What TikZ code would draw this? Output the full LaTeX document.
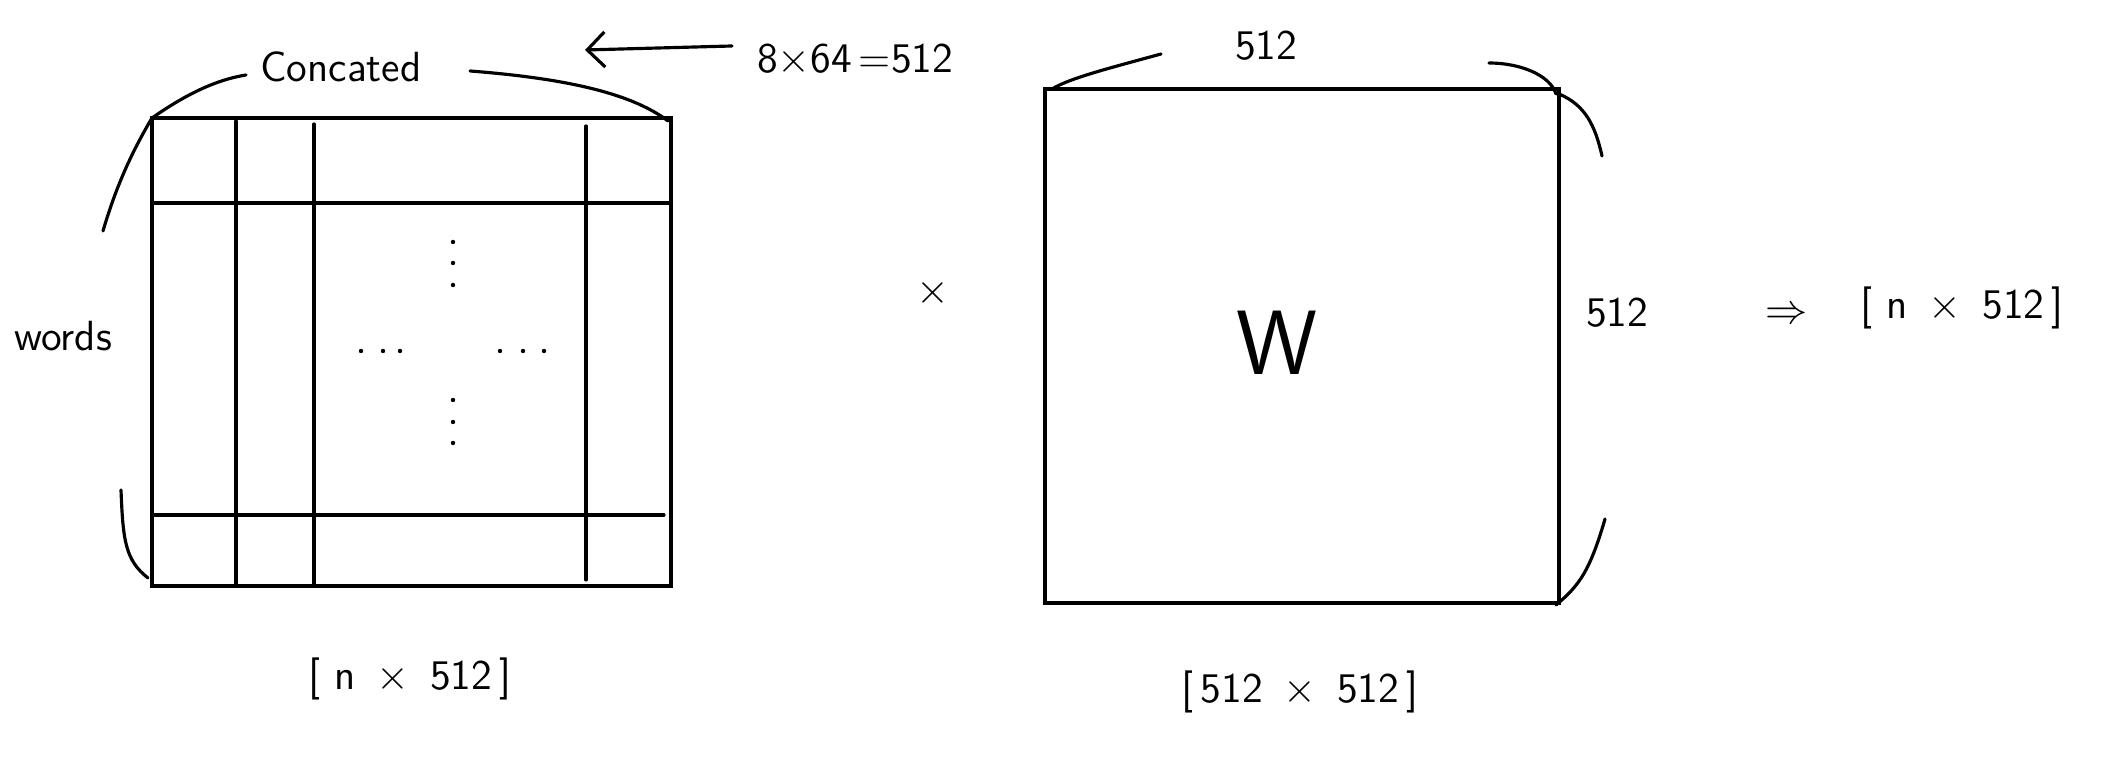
\documentclass[tikz,border=0pt]{standalone}
\usepackage{xcolor}
\usetikzlibrary{arrows.meta}
\begin{document}
\begin{tikzpicture}[x=0.01cm, y=-0.01cm, line width=0.9pt, line cap=round,
    lbl/.style={font=\sffamily\fontsize{12}{14}\selectfont, inner sep=1pt},
    brace/.style={line width=0.9pt}]
      \useasboundingbox (0,0) rectangle (2107,768);
      % \draw[help lines, gray!50, very thin] (0,0) grid[step=100] (2107,768);

      % concatenated heads, n x 512
      \draw (152,118) rectangle (671,586);
      \draw (236,121) -- (236,586);
      \draw (314,124) -- (314,586);
      \draw (586,126) -- (586,580);
      \draw (154,203) -- (671,203);
      \draw (152,515) -- (664,515);
      \foreach \y in {242,263,285,400,422,443}
        \fill (453,\y) circle (2.2);
      \foreach \x in {361,383,400,500,523,544}
        \fill (\x,351) circle (2.2);

      \node[lbl] (concat) at (341,67) {Concated};
      \draw[brace] (152,118) .. controls (185,95) and (215,80) .. (246,75);
      \draw[brace] (470,71) .. controls (560,78) and (630,92) .. (668,121);
      \node[lbl] (words) at (63,336) {words};
      \draw[brace] (152,118) .. controls (130,155) and (115,190) .. (103,231);
      \draw[brace] (121,490) .. controls (123,540) and (125,560) .. (148,578);

      \node[lbl, anchor=west] (dimnote) at (752,60) {8$\times$64\,=512};
      \coordinate (dimend) at (585,50);
      \draw[-{Straight Barb[length=5pt]}] (dimnote.west) ++(-20,-14) -- (dimend);

      \node[lbl] (indim) at (410,679) {[\,\,n \,$\times$\, 512\,]};
      \node[lbl] (times) at (933,293) {$\times$};

      % weight matrix, 512 x 512
      \draw (1045,89) rectangle (1559,603);
      \node[lbl, font=\sffamily\fontsize{26}{28}\selectfont] (wlabel) at (1277,343) {W};
      \node[lbl] (wtop) at (1266,46) {512};
      \draw[brace] (1052,89) .. controls (1070,78) and (1110,68) .. (1161,54);
      \draw[brace] (1489,63) .. controls (1520,63) and (1550,75) .. (1556,94);
      \node[lbl] (wside) at (1617,313) {512};
      \draw[brace] (1559,94) .. controls (1585,105) and (1595,125) .. (1602,156);
      \draw[brace] (1605,519) .. controls (1590,570) and (1580,585) .. (1556,605);
      \node[lbl] (wdim) at (1300,692) {[\,512 \,$\times$\, 512\,]};

      \node[lbl] (implies) at (1787,316) {$\Rightarrow$};
      \node[lbl] (outdim) at (1962,308) {[\,\,n \,$\times$\, 512\,]};
\end{tikzpicture}
\end{document}
